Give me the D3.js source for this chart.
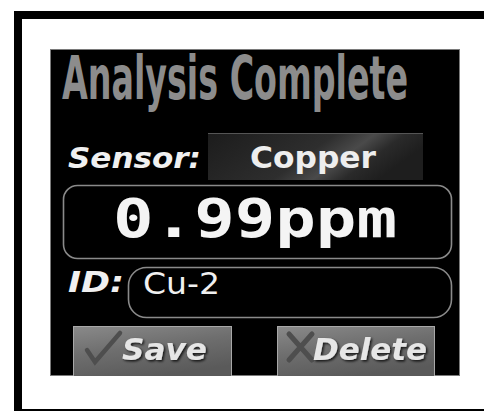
<!DOCTYPE html>
<html>
<head>
<meta charset="utf-8">
<script src="https://cdn.jsdelivr.net/npm/d3@7"></script>
<style>
  html, body { margin: 0; padding: 0; background: #fff; }
  svg { display: block; }
</style>
</head>
<body>
<div id="chart"></div>
<script>
// ---- content ----
const titleText = ["Analysis Complete"];
const fieldLabels = ["Sensor:", "ID:"];
const fieldValues = ["Copper", "Cu-2"];
const readingValue = [0.99];
const readingUnit = ["ppm"];
const buttonLabels = ["Save", "Delete"];

const W = 484, H = 411;
const svg = d3.select("#chart").append("svg").attr("width", W).attr("height", H);
const defs = svg.append("defs");

// gradients
const g1 = defs.append("linearGradient").attr("id", "selGrad").attr("x1", "0").attr("y1", "0").attr("x2", "1").attr("y2", "0.3");
g1.append("stop").attr("offset", "0").attr("stop-color", "#1c1c1c");
g1.append("stop").attr("offset", "0.55").attr("stop-color", "#2e2e2e");
g1.append("stop").attr("offset", "0.72").attr("stop-color", "#4a4a4a");
g1.append("stop").attr("offset", "0.85").attr("stop-color", "#2a2a2a");
g1.append("stop").attr("offset", "1").attr("stop-color", "#1e1e1e");

const g2 = defs.append("linearGradient").attr("id", "btnGrad").attr("x1", "0").attr("y1", "0").attr("x2", "0.4").attr("y2", "1");
g2.append("stop").attr("offset", "0").attr("stop-color", "#8a8a8a");
g2.append("stop").attr("offset", "0.5").attr("stop-color", "#6e6e6e");
g2.append("stop").attr("offset", "1").attr("stop-color", "#5a5a5a");

const shadow = defs.append("filter").attr("id", "shadow").attr("x", "-10%").attr("y", "-10%").attr("width", "130%").attr("height", "140%");
shadow.append("feDropShadow").attr("dx", 1.5).attr("dy", 1.5).attr("stdDeviation", 0.8).attr("flood-color", "#000").attr("flood-opacity", 0.8);

// ---- outer frame ----
const frame = svg.append("g").attr("fill", "#000");
frame.append("rect").attr("x", 14).attr("y", 11).attr("width", W - 14).attr("height", 8);
frame.append("rect").attr("x", 14).attr("y", 11).attr("width", 8).attr("height", H - 11);
frame.append("rect").attr("x", 14).attr("y", 409).attr("width", W - 14).attr("height", 2);

// ---- screen ----
const screen = svg.append("g");
screen.append("rect").attr("x", 50.5).attr("y", 49.5).attr("width", 409).attr("height", 326)
  .attr("fill", "#000").attr("stroke", "#7a7a7a").attr("stroke-width", 1);

const clip = defs.append("clipPath").attr("id", "scr");
clip.append("rect").attr("x", 51).attr("y", 50).attr("width", 408).attr("height", 326);
const inner = screen.append("g").attr("clip-path", "url(#scr)");
const textLayer = screen.append("g");

// Title
textLayer.selectAll("text.title").data(titleText).join("text")
  .attr("class", "title")
  .attr("x", 62).attr("y", 99)
  .attr("font-family", "'Liberation Sans Narrow', 'DejaVu Sans Condensed', 'Roboto', sans-serif")
  .attr("font-weight", "bold").attr("font-size", 60)
  .attr("textLength", 346).attr("lengthAdjust", "spacingAndGlyphs")
  .attr("fill", "#8c8c8c")
  .text(d => d);

// Field labels
const labelY = [168, 292];
const labelW = [133, 56];
textLayer.selectAll("text.flabel").data(fieldLabels).join("text")
  .attr("class", "flabel")
  .attr("x", 68).attr("y", (d, i) => labelY[i])
  .attr("font-family", "'DejaVu Sans', sans-serif")
  .attr("font-weight", "bold").attr("font-style", "italic").attr("font-size", 28)
  .attr("textLength", (d, i) => labelW[i]).attr("lengthAdjust", "spacingAndGlyphs")
  .attr("fill", "#f0f0f0")
  .text(d => d);

// Sensor value box
inner.append("rect").attr("x", 208).attr("y", 133).attr("width", 215).attr("height", 47)
  .attr("fill", "url(#selGrad)");
inner.append("line").attr("x1", 208).attr("x2", 423).attr("y1", 133.5).attr("y2", 133.5)
  .attr("stroke", "#555").attr("stroke-width", 1);
textLayer.append("text").datum(fieldValues[0])
  .attr("x", 250).attr("y", 168)
  .attr("font-family", "'DejaVu Sans', sans-serif")
  .attr("font-weight", "bold").attr("font-size", 31)
  .attr("textLength", 126).attr("lengthAdjust", "spacingAndGlyphs")
  .attr("fill", "#eeeeee")
  .text(d => d);

// Reading box
inner.append("rect").attr("x", 63.5).attr("y", 185.5).attr("width", 388).attr("height", 73).attr("rx", 14)
  .attr("fill", "#000").attr("stroke", "#8a8a8a").attr("stroke-width", 1.6);
const fmt = d3.format(".2f");
textLayer.append("text").datum(readingValue[0])
  .attr("x", 113).attr("y", 237)
  .attr("font-family", "'DejaVu Sans Mono', 'Liberation Mono', monospace")
  .attr("font-weight", "bold").attr("font-size", 54)
  .attr("textLength", 284).attr("lengthAdjust", "spacingAndGlyphs")
  .attr("fill", "#f4f4f4")
  .text(d => fmt(d) + readingUnit[0]);

// ID box
inner.append("rect").attr("x", 128.5).attr("y", 267.5).attr("width", 323).attr("height", 50).attr("rx", 18)
  .attr("fill", "#000").attr("stroke", "#8a8a8a").attr("stroke-width", 1.6);
textLayer.append("text").datum(fieldValues[1])
  .attr("x", 143).attr("y", 294)
  .attr("font-family", "'Liberation Sans Narrow', 'DejaVu Sans Condensed', sans-serif")
  .attr("font-size", 31)
  .attr("textLength", 77).attr("lengthAdjust", "spacingAndGlyphs")
  .attr("fill", "#f0f0f0")
  .text(d => d);

// Buttons
const btnX = [73, 277];
const btnW = [159, 158];
const txtX = [122, 313];
const txtW = [85, 114];
const btns = inner.selectAll("g.btn").data(buttonLabels).join("g").attr("class", "btn");
btns.append("rect")
  .attr("x", (d, i) => btnX[i]).attr("y", 326).attr("width", (d, i) => btnW[i]).attr("height", 52)
  .attr("fill", "url(#btnGrad)");
btns.append("rect")
  .attr("x", (d, i) => btnX[i] + 0.5).attr("y", 326.5).attr("width", (d, i) => btnW[i] - 1).attr("height", 52)
  .attr("fill", "none").attr("stroke", "#a8a8a8").attr("stroke-width", 1);
// icons
inner.append("path")
  .attr("d", "M87,350 L95,362 L120,333")
  .attr("fill", "none").attr("stroke", "#4e4e4e").attr("stroke-width", 4.5).attr("stroke-linecap", "round");
inner.append("path")
  .attr("d", "M289,334 L312,360 M312,334 L289,360")
  .attr("fill", "none").attr("stroke", "#4e4e4e").attr("stroke-width", 5).attr("stroke-linecap", "round");
textLayer.selectAll("text.btxt").data(buttonLabels).join("text")
  .attr("class", "btxt")
  .attr("x", (d, i) => txtX[i]).attr("y", 360)
  .attr("font-family", "'DejaVu Sans', sans-serif")
  .attr("font-weight", "bold").attr("font-style", "italic").attr("font-size", 31)
  .attr("textLength", (d, i) => txtW[i]).attr("lengthAdjust", "spacingAndGlyphs")
  .attr("fill", "#e6e6e6")
  .attr("filter", "url(#shadow)")
  .text(d => d);
</script>
</body>
</html>
